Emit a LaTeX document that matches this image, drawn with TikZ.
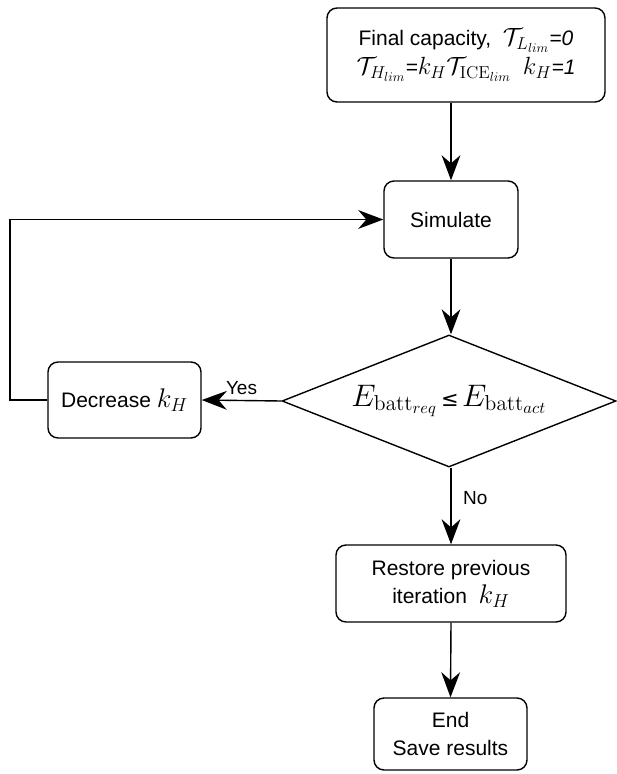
\documentclass[tikz,border=0pt]{standalone}
\usepackage[no-math]{fontspec}
\setmainfont{Liberation Sans}
\newfontfamily\symfont{DejaVu Sans}
\usetikzlibrary{shapes.geometric,arrows.meta}
% formulas are set a little bigger than the running text
\newcommand{\fmla}[1]{\scalebox{1.3}{$#1$}}
\newcommand{\fmlatop}[1]{\scalebox{1.2}{$#1$}}
\newcommand{\fmlabig}[1]{\scalebox{1.5}{$#1$}}
\begin{document}
\begin{tikzpicture}[x=1pt,y=1pt,
  every node/.style={font=\fontsize{21}{28}\selectfont},
  procbox/.style={draw,line width=1.4pt,rounded corners=10pt,align=center,inner sep=0pt},
  decbox/.style={draw,line width=1.4pt,diamond,inner sep=0pt,aspect=2.5},
  flow/.style={line width=1.4pt,-{Stealth[scale=2.7]}},
  lbl/.style={font=\fontsize{19}{22}\selectfont}]
\useasboundingbox (0,0) rectangle (616,-774);

% process steps
\node[procbox,minimum width=278pt,minimum height=94pt] (init) at (466,-55)
  {Final capacity,\ \ \fmlatop{\mathcal{T}_{L_{lim}}}\textit{=0}\\[1pt]
   \fmlatop{\mathcal{T}_{H_{lim}}}\textit{=}\fmlatop{k_H\mathcal{T}_{\mathrm{ICE}_{lim}}}\ \ \fmlatop{k_H}\textit{=1}};
\node[procbox,minimum width=134pt,minimum height=77pt] (sim) at (451,-219.5) {Simulate};
\node[decbox,minimum width=334pt,minimum height=132pt] (cmp) at (449,-401)
  {\fmlabig{E_{\mathrm{batt}_{req}}}\,{\symfont ≤}\,\fmlabig{E_{\mathrm{batt}_{act}}}};
\node[procbox,minimum width=153pt,minimum height=76pt] (dec) at (124.5,-400) {Decrease \fmla{k_H}};
\node[procbox,minimum width=230pt,minimum height=77pt] (rest) at (451,-583.5)
  {Restore previous\\ iteration\ \ \fmla{k_H}};
\node[procbox,minimum width=153pt,minimum height=72pt] (fin) at (450.5,-734)
  {End\\Save results};

\coordinate (loop) at (10,0);

% connectors
\draw[flow] (sim |- init.south) -- (sim.north);
\draw[flow] (sim.south) -- (sim |- cmp.north);
\draw[flow] (cmp.west) -- node[lbl,above=2pt] {Yes} (dec.east);
\draw[flow] (dec.west) -- (dec.west -| loop) |- (sim.west);
\draw[flow] (sim |- cmp.south) -- node[lbl,right=8pt,pos=0.4] {No} (rest.north);
\draw[flow] (rest.south) -- (fin.north);
\end{tikzpicture}
\end{document}
